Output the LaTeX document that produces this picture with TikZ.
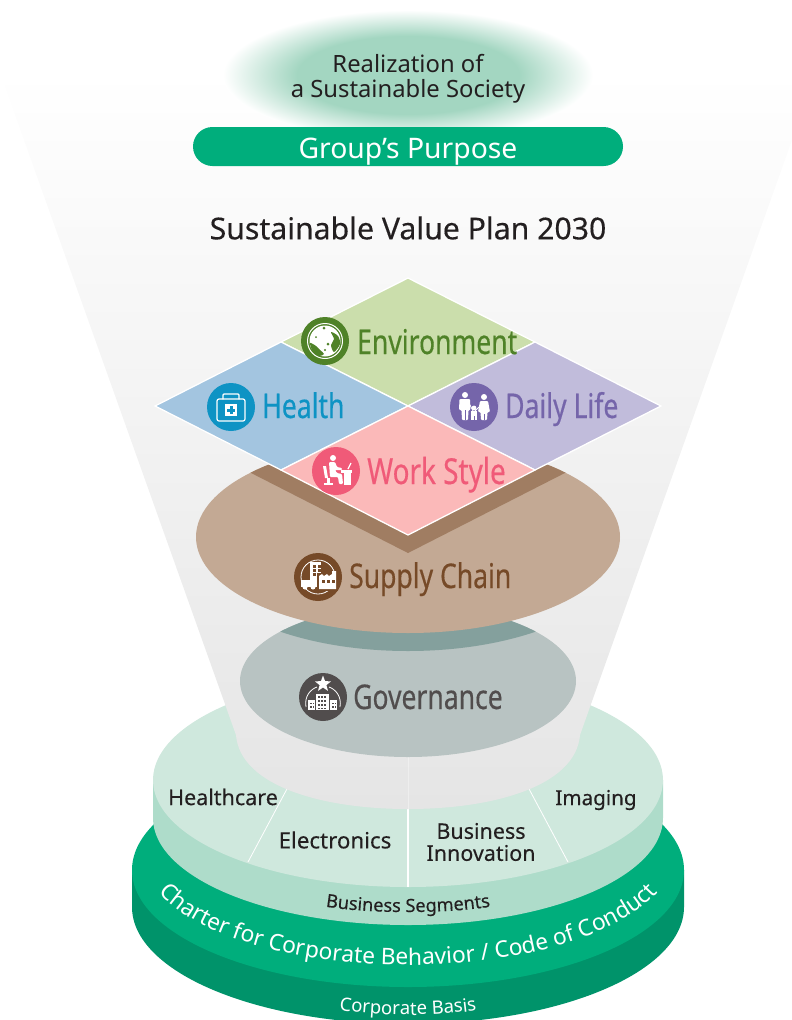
\documentclass[tikz,border=0pt]{standalone}
\usepackage{fontspec}
\setmainfont{Noto Sans}
\newfontfamily\condfont[FakeStretch=0.78,FakeBold=0.35]{Noto Sans}
\newfontfamily\medfont[FakeBold=0.25]{Noto Sans}
\usetikzlibrary{decorations.text,shapes.geometric}
\definecolor{basegreen}{HTML}{00AE7C}
\definecolor{baseside}{HTML}{00936A}
\definecolor{segtop}{HTML}{CFE8DD}
\definecolor{segside}{HTML}{AEDCCA}
\definecolor{funnelgray}{HTML}{E5E5E5}
\definecolor{glowgreen}{HTML}{A3D6C1}
\definecolor{inkblack}{HTML}{231F20}
\definecolor{envfill}{HTML}{CBDEAC}
\definecolor{envink}{HTML}{4F8228}
\definecolor{healthfill}{HTML}{A3C5E0}
\definecolor{healthink}{HTML}{0E93C4}
\definecolor{dailyfill}{HTML}{C1BCDB}
\definecolor{dailyink}{HTML}{7565AA}
\definecolor{workfill}{HTML}{FBB9B9}
\definecolor{workink}{HTML}{F05A78}
\definecolor{supplyfill}{HTML}{C3A994}
\definecolor{supplyband}{HTML}{A07D62}
\definecolor{supplyink}{HTML}{764A28}
\definecolor{govfill}{HTML}{B8C3C2}
\definecolor{govband}{HTML}{84A09D}
\definecolor{govink}{HTML}{514D4D}
\pgfdeclareradialshading{glowshade}{\pgfpoint{0bp}{0bp}}{color(0bp)=(glowgreen);color(15bp)=(glowgreen);color(25bp)=(white);color(50bp)=(white)}
\tikzset{
  petal/.style={draw=white,line width=1.3pt,line join=miter},
  iconball/.style={circle,minimum size=48pt,inner sep=0pt},
  iconlabel/.style={anchor=base west,inner sep=0pt,font=\condfont\fontsize{34}{34}\selectfont},
  segtext/.style={inner sep=0pt,align=center,text=inkblack,font=\medfont\fontsize{21.5}{22}\selectfont},
  iconline/.style={draw=white,line width=1.2pt,line cap=round},
}
\begin{document}
\begin{tikzpicture}[x=1pt,y=-1pt]
    \useasboundingbox (0,0) rectangle (792,1020);
    \clip (0,0) rectangle (792,1020);
    %corporate basis
    \fill [baseside] (132,870) -- (132,907) .. controls (132,972) and (256,1024) .. (408,1024) .. controls (560,1024) and (684,972) .. (684,907) -- (684,870) -- cycle;
    \fill [basegreen] (408,870) ellipse [x radius=276,y radius=117];
    %segments
    \fill [segside] (153,780) -- (153,818) .. controls (153,877) and (267,925) .. (408,925) .. controls (549,925) and (663,877) .. (663,818) -- (663,780) -- cycle;
    \fill [segtop] (408,780) ellipse [x radius=255,y radius=107];
    \draw [white,line width=0.8pt] (288,787) -- (248,862);
    \draw [white,line width=0.8pt] (528,787) -- (568,862);
    \draw [white,line width=1.2pt] (408,800) -- (408,887);
    %funnel
    \shade [top color=white,bottom color=funnelgray] (-1,70) -- (236,735) .. controls (240,785) and (320,809) .. (408,809) .. controls (496,809) and (576,785) .. (580,735) -- (817,70) -- cycle;
    \draw [white,opacity=0.35,line width=0.8pt] (408,757) -- (408,809);
    %top
    \shade [shading=glowshade] (408,75) ellipse [x radius=185,y radius=65];
    \node [fill=basegreen,rounded corners=19.5pt,minimum width=430pt,minimum height=39pt,inner sep=0pt] at (408,146.5) (purposebar) {};
    \node [inner sep=0pt,text=white,font=\fontsize{28.3}{29}\selectfont] at (408,152) (purpose) {Group’s Purpose};
    \node [inner sep=0pt,align=center,text=inkblack,font=\fontsize{23.8}{25}\selectfont] at (408,79) (society) {Realization of\\a Sustainable Society};
    \node [inner sep=0pt,text=inkblack,font=\medfont\fontsize{30.2}{31}\selectfont] at (408,228) (plan) {Sustainable Value Plan 2030};
    %governance and supply chain
    \fill [govfill] (408,681) ellipse [x radius=168,y radius=76];
    \begin{scope}
      \clip (408,681) ellipse [x radius=168,y radius=76];
      \fill [govband] (408,555) ellipse [x radius=212,y radius=96];
    \end{scope}
    \fill [supplyfill] (408,537) ellipse [x radius=212,y radius=96];
    \begin{scope}
      \clip (408,537) ellipse [x radius=212,y radius=96];
      \fill [supplyband] (155,424) -- (408,553) -- (661,424) -- (408,300) -- cycle;
    \end{scope}
    %diamonds
    \filldraw [petal,fill=envfill] (408,278) -- (535,342) -- (408,406) -- (281,342) -- cycle;
    \filldraw [petal,fill=healthfill] (281,342) -- (408,406) -- (281,470) -- (155,406) -- cycle;
    \filldraw [petal,fill=dailyfill] (535,342) -- (661,406) -- (535,470) -- (408,406) -- cycle;
    \filldraw [petal,fill=workfill] (408,406) -- (535,470) -- (408,535) -- (281,470) -- cycle;
    %icons
    \node [iconball,fill=envink] at (325,341) (envicon) {};
    \begin{scope}[shift={(325,341)}]
      \draw [white,line width=1pt] (0,0) circle [radius=17.5];
      \fill [white] (0,0) circle [radius=15.5];
      \fill [envink] plot [smooth cycle] coordinates {(6,-9) (13,-5) (15,3) (9,11) (6,4) (9,-2)};
      \fill [envink] plot [smooth cycle] coordinates {(-15,2) (-9,5) (-5,9) (-1,13) (-6,15) (-12,11)};
      \fill [envink] (3,3) circle [radius=1.5];
      \fill [envink] (0,9) circle [radius=1.2];
      \fill [envink] (-1,-13) circle [radius=1.5];
      \fill [envink] (-9,-4) circle [radius=1];
    \end{scope}
    \node [iconball,fill=healthink] at (231,407) (healthicon) {};
    \begin{scope}[shift={(231,407)}]
      \draw [iconline,rounded corners=2pt] (-14,-8) rectangle (14,14);
      \draw [iconline,rounded corners=1pt] (-8,-8) -- (-8,-13) -- (8,-13) -- (8,-8);
      \fill [white] (-6,-3) rectangle (6,9);
      \fill [healthink] (-1.5,-1) rectangle (1.5,7);
      \fill [healthink] (-4,1.5) rectangle (4,4.5);
    \end{scope}
    \node [iconball,fill=dailyink] at (474,407) (dailyicon) {};
    \begin{scope}[shift={(474,407)},white]
      \fill (-9,-12) circle [radius=3];
      \fill [rounded corners=1pt] (-14.5,-8) -- (-4,-8) -- (-3.5,3) -- (-5.5,3) -- (-6,13) -- (-12,13) -- (-12.5,3) -- (-15,3) -- cycle;
      \fill (10,-10) circle [radius=3];
      \fill [rounded corners=1pt] (6,-6) -- (14,-6) -- (16,5) -- (13.5,5) -- (13,13) -- (7,13) -- (6.5,5) -- (4,5) -- cycle;
      \fill (0,1) circle [radius=2.4];
      \fill (-3,4) rectangle (3,13);
      \draw [line width=0.8pt] (-4,-2) -- (-1,4);
      \draw [line width=0.8pt] (5,0) -- (1,4);
      \draw [dailyink,line width=0.5pt] (0,9) -- (0,13);
      \draw [dailyink,line width=0.5pt] (-9,3) -- (-9,13);
      \draw [dailyink,line width=0.5pt] (10,7) -- (10,13);
    \end{scope}
    \node [iconball,fill=workink] at (336,471) (workicon) {};
    \begin{scope}[shift={(336,471)},white]
      \fill (-3,-13) circle [radius=3];
      \fill [rounded corners=1pt] (-7,-9) -- (-1,-9) -- (1,-4) -- (6,-3) -- (6,-1) -- (-1,-1) -- (1,2) -- (6,3) -- (7,13) -- (3,13) -- (2,6) -- (-6,6) -- cycle;
      \fill (-13,-5) -- (-10,-5) -- (-8,7) -- (-11,7) -- cycle;
      \fill (-9,7) rectangle (-6,12);
      \fill (-12,12) rectangle (-3,14);
      \fill (5,-1) rectangle (16,2);
      \fill (8,2) rectangle (15,14);
      \draw [line width=1.3pt] (12,-2) -- (15,-8);
    \end{scope}
    \node [iconball,fill=supplyink] at (318,577) (supplyicon) {};
    \begin{scope}[shift={(318,577)}]
      \draw [white,line width=0.8pt] (0,0) circle [radius=17];
      \fill [white] (-8.5,-15.5) rectangle (3,5);
      \foreach \wx in {-5,-0.5} \foreach \wy in {-12,-8,-4} \fill [supplyink] (\wx,\wy) rectangle ++(3,2.5);
      \fill [supplyink] (-1,-4) rectangle (20,14);
      \fill [white] (1,12) -- (1,-1) -- (4,-3) -- (6,-1) -- (9,-3) -- (11,-1) -- (14,-3) -- (14,-6) -- (18,-6) -- (18,12) -- cycle;
      \foreach \wx in {4,9,14} \fill [supplyink] (\wx,3) rectangle ++(3,3);
      \fill [white] (-17,3) rectangle (-1,10);
      \fill [white] (-13,10) circle [radius=2.5];
      \fill [white] (-5,10) circle [radius=2.5];
    \end{scope}
    \node [iconball,fill=govink] at (323,697) (govicon) {};
    \node [star,star points=5,star point ratio=2.4,fill=white,inner sep=0pt,minimum size=17pt] at (323,684) (govstar) {};
    \begin{scope}[shift={(323,697)}]
      \draw [white,line width=0.8pt] (-17,10) .. controls (-19,-1) and (-12,-8) .. (-6,-10);
      \draw [white,line width=0.8pt] (17,10) .. controls (19,-1) and (12,-8) .. (6,-10);
      \fill [white] (-7,-3) rectangle (6,13);
      \fill [white] (-15,3) rectangle (-8,13);
      \fill [white] (7,3) rectangle (14,13);
      \foreach \wx in {-5,-2,1} \foreach \wy in {-1,3,7,10.5} \fill [govink] (\wx,\wy) rectangle ++(2,1.6);
      \foreach \wx in {-13,-10.5,9,11.5} \foreach \wy in {5.5,9} \fill [govink] (\wx,\wy) rectangle ++(1.5,1.5);
    \end{scope}
    %labels
    \node [iconlabel,text=envink] at (357,354) (envlabel) {Environment};
    \node [iconlabel,text=healthink] at (262,418) (healthlabel) {Health};
    \node [iconlabel,text=dailyink] at (505,418) (dailylabel) {Daily Life};
    \node [iconlabel,text=workink,font=\condfont\fontsize{35.8}{36}\selectfont] at (367,484) (worklabel) {Work Style};
    \node [iconlabel,text=supplyink] at (349,588) (supplylabel) {Supply Chain};
    \node [iconlabel,text=govink] at (353,709) (govlabel) {Governance};
    \node [segtext] at (223,797) (healthcare) {Healthcare};
    \node [segtext,font=\medfont\fontsize{22.3}{23}\selectfont] at (335,840) (electronics) {Electronics};
    \node [segtext] at (481,842) (innovation) {Business\\Innovation};
    \node [segtext,font=\medfont\fontsize{20.6}{21}\selectfont] at (596,800) (imaging) {Imaging};
    %curved texts
    \path [decorate,decoration={text along path,text align=center,text={|\medfont\color{inkblack}\fontsize{18.2}{19}\selectfont|Business Segments}}] (200,860) .. controls (270,905) and (340,912) .. (408,912) .. controls (476,912) and (546,905) .. (616,860);
    \path [decorate,decoration={text along path,text align=center,text={|\color{white}\fontsize{22.8}{25}\selectfont|Charter for Corporate Behavior / Code of Conduct}}] (143,855) .. controls (143,916) and (262,965) .. (408,965) .. controls (554,965) and (673,916) .. (673,855);
    \path [decorate,decoration={text along path,text align=center,text={|\color{white}\fontsize{18.5}{19}\selectfont|Corporate Basis}}] (250,988) .. controls (300,1008) and (360,1015) .. (408,1015) .. controls (456,1015) and (516,1008) .. (566,988);
\end{tikzpicture}
\end{document}
